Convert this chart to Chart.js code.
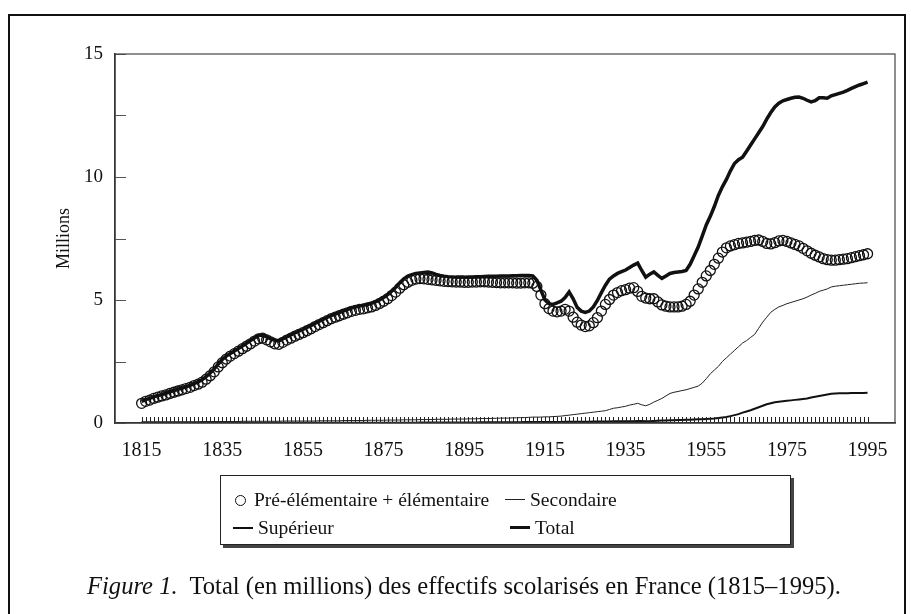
<!DOCTYPE html>
<html>
<head>
<meta charset="utf-8">
<script src="https://cdn.jsdelivr.net/npm/chart.js@4.4.0/dist/chart.umd.min.js"></script>
<style>
    html, body { margin: 0; padding: 0; background: #fff; }
    #page { position: relative; width: 911px; height: 614px; overflow: hidden; font-family: "Liberation Serif", "DejaVu Serif", serif; color: #111; }
    #frame { position: absolute; left: 8px; top: 14px; width: 898px; height: 640px; border: 2px solid #111; box-sizing: border-box; }
    #chart { position: absolute; left: 0; top: 0; }
    #legend { position: absolute; left: 220px; top: 475px; width: 571px; height: 70px; border: 1px solid #222; box-shadow: 3px 3px 0 #444; box-sizing: border-box; background: #fff; }
    .item { position: absolute; font-size: 19.5px; line-height: 22px; white-space: nowrap; }
    .mark { display: inline-block; vertical-align: middle; margin-right: 5px; position: relative; top: -2px; }
    #caption { position: absolute; left: 87px; top: 572px; font-size: 24.6px; white-space: nowrap; }
</style>
</head>
<body>
<div id="page">
    <div id="frame"></div>
    <canvas id="chart" width="911" height="614"></canvas>
    <div id="legend"></div>
    <div id="caption"><i>Figure 1.</i>&nbsp; Total (en millions) des effectifs scolarisés en France (1815–1995).</div>
</div>
<script>
// Years on the x axis (one point per year)
const years = [];
for (let y = 1815; y <= 1995; y++) years.push(y);

const xTickLabels = [1815, 1835, 1855, 1875, 1895, 1915, 1935, 1955, 1975, 1995];
const yTickLabels = [0, 5, 10, 15];
const yMinorTicks = [0, 2.5, 5, 7.5, 10, 12.5, 15];

// Pré-élémentaire + élémentaire (millions), 1815-1995
const preElem = [
    0.80, 0.88, 0.93, 1.00, 1.05, 1.10, 1.14, 1.20, 1.25, 1.30,
    1.35, 1.40, 1.45, 1.52, 1.58, 1.66, 1.78, 1.92, 2.08, 2.28,
    2.45, 2.60, 2.72, 2.82, 2.92, 3.02, 3.12, 3.22, 3.33, 3.42,
    3.45, 3.38, 3.30, 3.22, 3.20, 3.28, 3.37, 3.45, 3.53, 3.60,
    3.67, 3.75, 3.83, 3.92, 4.00, 4.08, 4.16, 4.24, 4.30, 4.36,
    4.42, 4.48, 4.54, 4.58, 4.62, 4.64, 4.68, 4.72, 4.78, 4.86,
    4.95, 5.05, 5.18, 5.32, 5.48, 5.62, 5.72, 5.80, 5.85, 5.87,
    5.86, 5.84, 5.82, 5.80, 5.78, 5.76, 5.75, 5.74, 5.73, 5.73,
    5.72, 5.72, 5.73, 5.73, 5.74, 5.74, 5.73, 5.72, 5.71, 5.70,
    5.70, 5.70, 5.70, 5.69, 5.69, 5.70, 5.70, 5.68, 5.55, 5.20,
    4.85, 4.65, 4.55, 4.52, 4.55, 4.62, 4.55, 4.30, 4.10, 3.98,
    3.92, 3.95, 4.08, 4.28, 4.55, 4.82, 5.02, 5.20, 5.30, 5.38,
    5.42, 5.48, 5.50, 5.35, 5.15, 5.08, 5.05, 5.05, 4.92, 4.80,
    4.75, 4.72, 4.72, 4.72, 4.75, 4.82, 4.95, 5.20, 5.45, 5.72,
    5.98, 6.20, 6.45, 6.70, 6.95, 7.12, 7.20, 7.25, 7.30, 7.32,
    7.35, 7.38, 7.42, 7.44, 7.38, 7.30, 7.28, 7.33, 7.40, 7.42,
    7.38, 7.32, 7.26, 7.20, 7.10, 7.00, 6.90, 6.82, 6.75, 6.68,
    6.64, 6.62, 6.62, 6.64, 6.66, 6.68, 6.72, 6.76, 6.80, 6.84,
    6.88
];

// Secondaire (millions)
const secondaire = [
    0.05, 0.05, 0.05, 0.05, 0.05, 0.05, 0.05, 0.05, 0.05, 0.05,
    0.05, 0.05, 0.05, 0.05, 0.05, 0.06, 0.06, 0.06, 0.06, 0.06,
    0.06, 0.06, 0.06, 0.06, 0.06, 0.07, 0.07, 0.07, 0.07, 0.07,
    0.07, 0.07, 0.07, 0.07, 0.07, 0.08, 0.08, 0.08, 0.08, 0.08,
    0.08, 0.08, 0.08, 0.08, 0.09, 0.09, 0.09, 0.09, 0.09, 0.09,
    0.10, 0.10, 0.10, 0.10, 0.10, 0.10, 0.11, 0.11, 0.11, 0.11,
    0.11, 0.12, 0.12, 0.12, 0.12, 0.13, 0.13, 0.13, 0.13, 0.14,
    0.14, 0.14, 0.14, 0.15, 0.15, 0.15, 0.15, 0.16, 0.16, 0.16,
    0.16, 0.17, 0.17, 0.17, 0.18, 0.18, 0.18, 0.19, 0.19, 0.20,
    0.20, 0.20, 0.21, 0.21, 0.22, 0.22, 0.23, 0.24, 0.24, 0.24,
    0.25, 0.25, 0.26, 0.27, 0.28, 0.30, 0.32, 0.34, 0.36, 0.38,
    0.40, 0.42, 0.44, 0.46, 0.48, 0.50, 0.55, 0.60, 0.62, 0.65,
    0.68, 0.73, 0.76, 0.80, 0.74, 0.70, 0.76, 0.85, 0.92, 1.00,
    1.10, 1.20, 1.25, 1.28, 1.32, 1.35, 1.40, 1.45, 1.50, 1.62,
    1.80, 2.00, 2.15, 2.30, 2.50, 2.65, 2.80, 2.95, 3.10, 3.25,
    3.35, 3.48, 3.60, 3.85, 4.10, 4.30, 4.50, 4.62, 4.72, 4.78,
    4.85, 4.90, 4.95, 5.00, 5.05, 5.12, 5.20, 5.27, 5.35, 5.40,
    5.45, 5.53, 5.56, 5.58, 5.60, 5.62, 5.64, 5.66, 5.68, 5.69,
    5.70
];

// Supérieur (millions)
const superieur = [
    0.01, 0.01, 0.01, 0.01, 0.01, 0.01, 0.01, 0.01, 0.01, 0.01,
    0.01, 0.01, 0.01, 0.01, 0.01, 0.01, 0.01, 0.01, 0.01, 0.01,
    0.01, 0.01, 0.01, 0.01, 0.01, 0.01, 0.01, 0.01, 0.01, 0.01,
    0.01, 0.01, 0.01, 0.01, 0.01, 0.01, 0.01, 0.01, 0.01, 0.01,
    0.01, 0.01, 0.01, 0.01, 0.01, 0.01, 0.01, 0.01, 0.01, 0.01,
    0.01, 0.01, 0.01, 0.01, 0.01, 0.01, 0.01, 0.01, 0.01, 0.01,
    0.01, 0.01, 0.01, 0.01, 0.01, 0.01, 0.01, 0.01, 0.01, 0.02,
    0.02, 0.02, 0.02, 0.02, 0.02, 0.02, 0.02, 0.02, 0.02, 0.02,
    0.02, 0.02, 0.02, 0.02, 0.03, 0.03, 0.03, 0.03, 0.03, 0.03,
    0.03, 0.03, 0.03, 0.03, 0.03, 0.04, 0.04, 0.04, 0.04, 0.04,
    0.04, 0.04, 0.04, 0.04, 0.04, 0.05, 0.05, 0.05, 0.05, 0.05,
    0.05, 0.05, 0.06, 0.06, 0.06, 0.06, 0.06, 0.07, 0.07, 0.07,
    0.07, 0.07, 0.07, 0.08, 0.08, 0.07, 0.07, 0.08, 0.09, 0.10,
    0.10, 0.11, 0.11, 0.12, 0.12, 0.13, 0.13, 0.14, 0.15, 0.15,
    0.16, 0.17, 0.18, 0.20, 0.22, 0.24, 0.28, 0.32, 0.36, 0.42,
    0.47, 0.52, 0.58, 0.64, 0.70, 0.76, 0.80, 0.84, 0.86, 0.88,
    0.90, 0.92, 0.94, 0.96, 0.98, 1.00, 1.04, 1.07, 1.10, 1.13,
    1.16, 1.19, 1.20, 1.21, 1.21, 1.21, 1.22, 1.22, 1.22, 1.22,
    1.23
];

// Total (millions)
const total = [
    0.88, 0.95, 1.00, 1.06, 1.11, 1.16, 1.21, 1.27, 1.32, 1.37,
    1.42, 1.47, 1.53, 1.60, 1.67, 1.76, 1.88, 2.03, 2.20, 2.40,
    2.58, 2.72, 2.83, 2.93, 3.03, 3.13, 3.24, 3.35, 3.46, 3.56,
    3.58, 3.50, 3.42, 3.36, 3.34, 3.42, 3.50, 3.58, 3.66, 3.73,
    3.80, 3.88, 3.96, 4.05, 4.13, 4.21, 4.29, 4.37, 4.43, 4.49,
    4.55, 4.61, 4.67, 4.71, 4.75, 4.78, 4.82, 4.86, 4.92, 5.00,
    5.10, 5.22, 5.36, 5.52, 5.70, 5.86, 5.97, 6.03, 6.08, 6.10,
    6.12, 6.14, 6.10, 6.04, 6.00, 5.97, 5.95, 5.94, 5.93, 5.93,
    5.93, 5.94, 5.94, 5.95, 5.95, 5.96, 5.97, 5.97, 5.97, 5.98,
    5.98, 5.98, 5.99, 5.99, 6.00, 6.00, 6.00, 5.98, 5.80, 5.40,
    5.00, 4.85, 4.82, 4.88, 4.95, 5.10, 5.33, 5.05, 4.70, 4.55,
    4.50, 4.55, 4.72, 4.98, 5.30, 5.60, 5.85, 5.98, 6.08, 6.15,
    6.22, 6.32, 6.42, 6.50, 6.20, 5.93, 6.05, 6.14, 6.00, 5.88,
    5.98, 6.08, 6.12, 6.14, 6.16, 6.20, 6.45, 6.80, 7.15, 7.60,
    8.05, 8.40, 8.80, 9.25, 9.60, 9.90, 10.25, 10.55, 10.70, 10.80,
    11.05, 11.30, 11.55, 11.80, 12.05, 12.35, 12.62, 12.85, 13.00, 13.10,
    13.15, 13.20, 13.24, 13.25, 13.20, 13.12, 13.05, 13.10, 13.22, 13.22,
    13.20, 13.30, 13.35, 13.40, 13.45, 13.52, 13.60, 13.67, 13.74, 13.80,
    13.86
];

const ink = '#111';

function points(values) {
    return years.map((yr, i) => ({ x: yr, y: values[i] }));
}

// Frame, yearly ticks along the bottom and inner ticks on the y axis
const axisDecor = {
    id: 'axisDecor',
    afterDatasetsDraw(chart) {
        const ctx = chart.ctx;
        const area = chart.chartArea;
        const xs = chart.scales.x;
        const ys = chart.scales.y;
        ctx.save();
        ctx.strokeStyle = '#222';
        ctx.lineWidth = 1;
        ctx.beginPath();
        years.forEach(yr => {
            const px = Math.round(xs.getPixelForValue(yr)) + 0.5;
            ctx.moveTo(px, area.bottom);
            ctx.lineTo(px, area.bottom - 6);
        });
        ctx.stroke();

        ctx.strokeStyle = '#555';
        ctx.beginPath();
        yMinorTicks.forEach(v => {
            const py = Math.round(ys.getPixelForValue(v)) + 0.5;
            ctx.moveTo(area.left, py);
            ctx.lineTo(area.left + 11, py);
        });
        ctx.stroke();

        ctx.strokeStyle = '#444';
        ctx.lineWidth = 1.2;
        ctx.strokeRect(area.left, area.top, area.right - area.left, area.bottom - area.top);
        ctx.restore();
    }
};

const ctx = document.getElementById('chart').getContext('2d');
const chart = new Chart(ctx, {
    type: 'line',
    data: {
        datasets: [{
            label: 'Pré-élémentaire + élémentaire',
            data: points(preElem),
            showLine: false,
            pointStyle: 'circle',
            pointRadius: 5,
            pointBorderWidth: 1.3,
            pointBorderColor: ink,
            pointBackgroundColor: 'rgba(255,255,255,0)',
            borderColor: ink,
            borderWidth: 1.3
        }, {
            label: 'Secondaire',
            data: points(secondaire),
            borderColor: '#222',
            borderWidth: 1,
            pointRadius: 0,
            tension: 0
        }, {
            label: 'Supérieur',
            data: points(superieur),
            borderColor: ink,
            borderWidth: 2,
            pointRadius: 0,
            tension: 0
        }, {
            label: 'Total',
            data: points(total),
            borderColor: ink,
            borderWidth: 3.5,
            pointRadius: 0,
            tension: 0
        }]
    },
    options: {
        responsive: false,
        animation: false,
        layout: { padding: { left: 0, top: 54, right: 16, bottom: 151 } },
        plugins: {
            legend: { display: false },
            tooltip: { enabled: false }
        },
        scales: {
            x: {
                type: 'linear',
                min: 1808.4,
                max: 2001.8,
                afterBuildTicks: scale => { scale.ticks = xTickLabels.map(v => ({ value: v })); },
                afterFit: scale => { scale.height = 40; },
                grid: { drawOnChartArea: false, drawTicks: false },
                border: { color: '#222', width: 1.5 },
                ticks: {
                    padding: 16,
                    color: ink,
                    font: { family: 'Liberation Serif', size: 20 },
                    callback: v => String(v)
                }
            },
            y: {
                min: 0,
                max: 15,
                afterBuildTicks: scale => { scale.ticks = yTickLabels.map(v => ({ value: v })); },
                afterFit: scale => { scale.width = 115; },
                grid: { drawOnChartArea: false, drawTicks: false },
                border: { color: '#222', width: 1.5 },
                ticks: {
                    padding: 12,
                    color: ink,
                    font: { family: 'Liberation Serif', size: 19 }
                },
                title: {
                    display: true,
                    text: 'Millions',
                    color: ink,
                    padding: { top: 53, bottom: 0 },
                    font: { family: 'Liberation Serif', size: 18 }
                }
            }
        }
    },
    plugins: [axisDecor]
});

// HTML legend in a box, built from the datasets
const legendSpots = [
    { left: 14, top: 13 },
    { left: 284, top: 13 },
    { left: 12, top: 41 },
    { left: 289, top: 41 }
];
const legendBox = document.getElementById('legend');
chart.data.datasets.forEach((ds, i) => {
    const item = document.createElement('div');
    item.className = 'item';
    item.style.left = legendSpots[i].left + 'px';
    item.style.top = legendSpots[i].top + 'px';
    const mark = document.createElement('span');
    mark.className = 'mark';
    if (ds.showLine === false) {
        mark.style.width = '9px';
        mark.style.height = '9px';
        mark.style.border = ds.pointBorderWidth + 'px solid ' + ds.pointBorderColor;
        mark.style.borderRadius = '50%';
        mark.style.marginRight = '8px';
        mark.style.top = '-1px';
    } else {
        mark.style.width = '20px';
        mark.style.height = '0';
        mark.style.borderTop = ds.borderWidth + 'px solid ' + ds.borderColor;
    }
    item.appendChild(mark);
    item.appendChild(document.createTextNode(ds.label));
    legendBox.appendChild(item);
});
</script>
</body>
</html>
